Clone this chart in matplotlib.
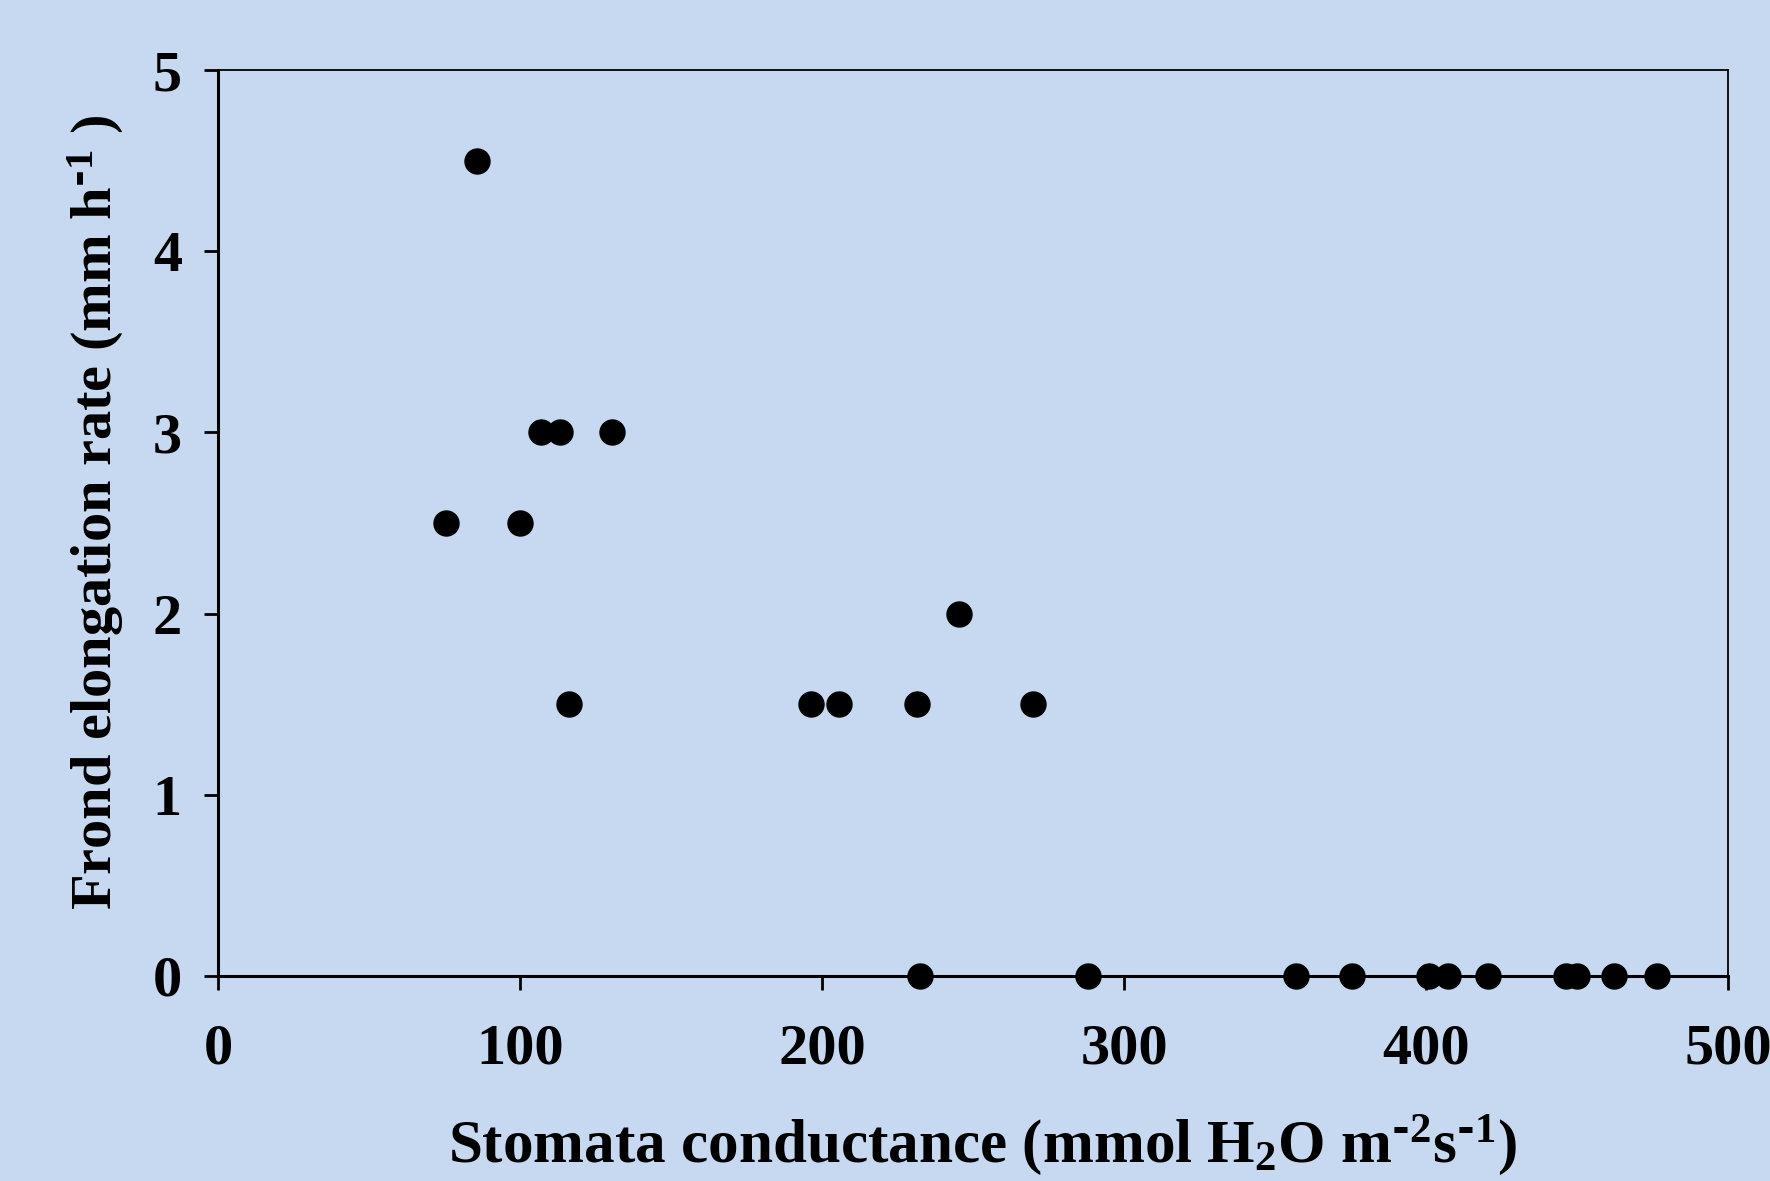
import matplotlib
matplotlib.use("Agg")
import matplotlib.pyplot as plt

# Stomatal conductance vs frond elongation rate
conductance = [85.9, 75.5, 100.1, 106.9, 113.2, 130.4, 116.2, 196.2, 205.5, 231.3,
               245.5, 269.8, 232.4, 288.1, 356.9, 375.6, 401.0, 407.3, 420.4,
               446.2, 449.9, 462.3, 476.5]
elongation = [4.5, 2.5, 2.5, 3.0, 3.0, 3.0, 1.5, 1.5, 1.5, 1.5,
              2.0, 1.5, 0, 0, 0, 0, 0, 0, 0,
              0, 0, 0, 0]
x_ticks = [0, 100, 200, 300, 400, 500]
y_ticks = [0, 1, 2, 3, 4, 5]

BG = '#C6D9F0'
plt.rcParams['font.family'] = ['Liberation Serif', 'DejaVu Serif']
plt.rcParams['font.weight'] = 'bold'
plt.rcParams['mathtext.default'] = 'regular'

fig = plt.figure(figsize=(17.7, 11.81), dpi=100, facecolor=BG)
ax = fig.add_axes([0.1232, 0.1736, 0.8531, 0.7671], facecolor=BG)

ax.plot(conductance, elongation, 'o', color='black', markersize=18, clip_on=False, zorder=5)

ax.set_xlim(0, 500)
ax.set_ylim(0, 5)
ax.set_xticks(x_ticks)
ax.set_yticks(y_ticks)
ax.tick_params(direction='out', length=10, width=2, labelsize=42, colors='black')
ax.tick_params(axis='y', pad=16)
ax.tick_params(axis='x', pad=24)
for lbl in ax.get_xticklabels() + ax.get_yticklabels():
    lbl.set_fontweight('bold')

for side in ['left', 'bottom']:
    ax.spines[side].set_linewidth(2.2)
for side in ['top', 'right']:
    ax.spines[side].set_linewidth(1.3)

fig.text(0.5548, 0.016, r'Stomata conductance (mmol H$_2$O m$^{\text{-}2}$s$^{\text{-}1}$)',
         ha='center', va='baseline', fontsize=44, fontweight='bold')
fig.text(0.054, 0.5665, r'Frond elongation rate (mm h$^{\text{-}1}$ )', rotation=90,
         ha='center', va='center', fontsize=42, fontweight='bold')

fig.savefig('out.png', dpi=100, facecolor=BG)
